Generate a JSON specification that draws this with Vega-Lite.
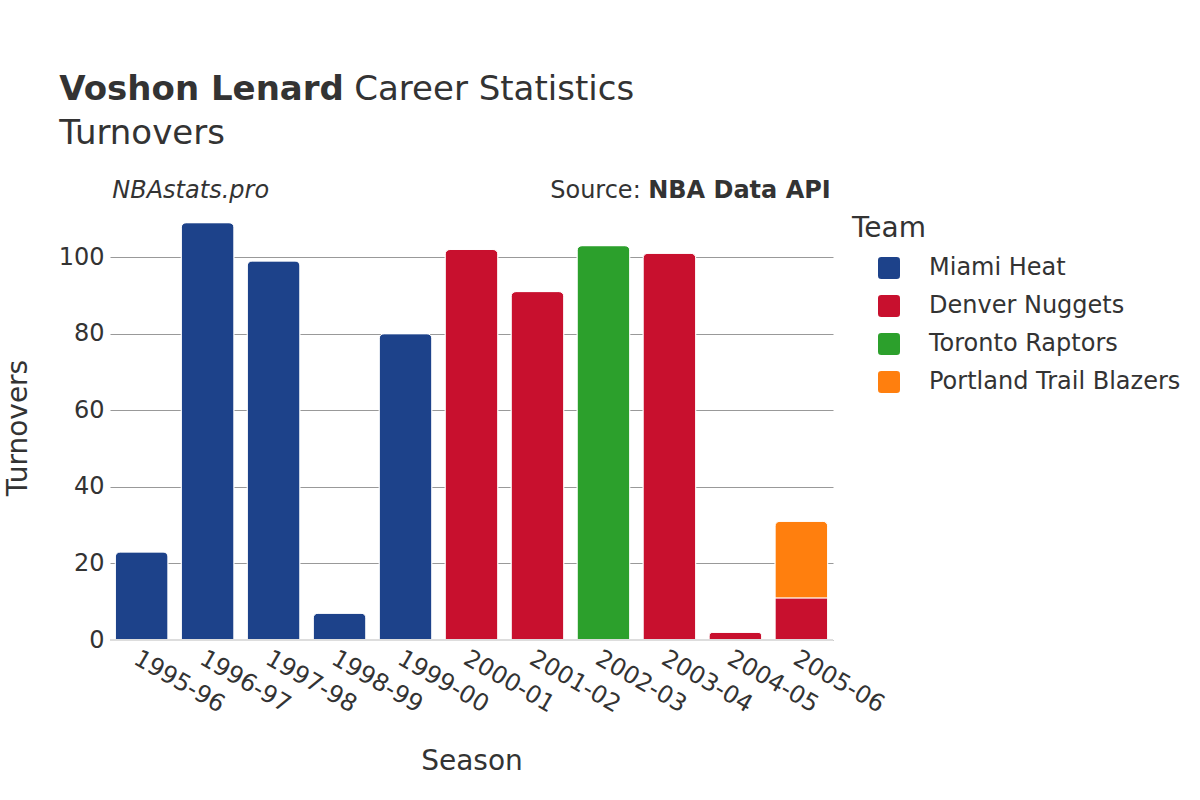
{
  "$schema": "https://vega.github.io/schema/vega-lite/v6.json",
  "autosize": "none",
  "width": 723,
  "height": 425,
  "padding": {"left": 110, "top": 215, "right": 367, "bottom": 160},
  "background": "white",
  "config": {
    "font": "DejaVu Sans",
    "view": {"stroke": null},
    "text": {"font": "DejaVu Sans", "color": "#333333"}
  },
  "data": {
    "values": [
      {"season": "1995-96", "team": "Miami Heat", "turnovers": 23},
      {"season": "1996-97", "team": "Miami Heat", "turnovers": 109},
      {"season": "1997-98", "team": "Miami Heat", "turnovers": 99},
      {"season": "1998-99", "team": "Miami Heat", "turnovers": 7},
      {"season": "1999-00", "team": "Miami Heat", "turnovers": 80},
      {"season": "2000-01", "team": "Denver Nuggets", "turnovers": 102},
      {"season": "2001-02", "team": "Denver Nuggets", "turnovers": 91},
      {"season": "2002-03", "team": "Toronto Raptors", "turnovers": 103},
      {"season": "2003-04", "team": "Denver Nuggets", "turnovers": 101},
      {"season": "2004-05", "team": "Denver Nuggets", "turnovers": 2},
      {"season": "2005-06", "team": "Denver Nuggets", "turnovers": 11},
      {"season": "2005-06", "team": "Portland Trail Blazers", "turnovers": 20}
    ]
  },
  "layer": [
    {
      "mark": {"type": "bar", "cornerRadiusEnd": 5, "stroke": "white", "strokeWidth": 1},
      "encoding": {
        "x": {
          "field": "season",
          "type": "nominal",
          "scale": {"paddingInner": 0.2, "paddingOuter": 0.08},
          "axis": {
            "title": "Season",
            "titleFontSize": 28,
            "titleFontWeight": "normal",
            "titleColor": "#333333",
            "titlePadding": 31,
            "labelAngle": 30,
            "labelAlign": "left",
            "labelBaseline": "top",
            "labelFontSize": 24,
            "labelColor": "#333333",
            "labelPadding": 6,
            "ticks": false,
            "domain": false
          }
        },
        "y": {
          "field": "turnovers",
          "type": "quantitative",
          "aggregate": "sum",
          "stack": "zero",
          "scale": {"domain": [0, 111], "nice": false},
          "axis": {
            "title": "Turnovers",
            "titleFontSize": 28,
            "titleFontWeight": "normal",
            "titleColor": "#333333",
            "titlePadding": 26,
            "values": [0, 20, 40, 60, 80, 100],
            "labelFontSize": 24,
            "labelColor": "#333333",
            "labelPadding": 6,
            "ticks": false,
            "domain": false,
            "grid": true,
            "gridColor": "#999999",
            "gridWidth": 1
          }
        },
        "color": {
          "field": "team",
          "type": "nominal",
          "scale": {
            "domain": ["Miami Heat", "Denver Nuggets", "Toronto Raptors", "Portland Trail Blazers"],
            "range": ["#1d428a", "#c8102e", "#2ca02c", "#ff7f0e"]
          },
          "legend": {
            "title": "Team",
            "orient": "right",
            "offset": 19,
            "padding": 0,
            "titleFontSize": 28,
            "titleFontWeight": "normal",
            "titleColor": "#333333",
            "titlePadding": 13,
            "labelFontSize": 24,
            "labelColor": "#333333",
            "labelOffset": 28,
            "labelLimit": 0,
            "symbolType": "M-0.7,-1H0.7Q1,-1 1,-0.7V0.7Q1,1 0.7,1H-0.7Q-1,1 -1,0.7V-0.7Q-1,-1 -0.7,-1Z",
            "symbolSize": 484,
            "symbolOffset": 25,
            "symbolStrokeWidth": 0,
            "rowPadding": 14
          }
        },
        "order": {"field": "team", "sort": "ascending"}
      }
    },
    {
      "mark": {"type": "rule", "color": "#dddddd", "strokeWidth": 2},
      "encoding": {"y": {"datum": 0}}
    },
    {
      "data": {"values": [{}]},
      "mark": {"type": "text", "align": "left", "baseline": "middle", "fontSize": 34, "fontWeight": "bold", "dx": -56, "dy": -125},
      "encoding": {
        "x": {"datum": "1995-96", "bandPosition": 0},
        "y": {"datum": 111},
        "text": {"value": "Voshon Lenard"}
      }
    },
    {
      "data": {"values": [{}]},
      "mark": {"type": "text", "align": "left", "baseline": "middle", "fontSize": 34, "dx": 239, "dy": -125},
      "encoding": {
        "x": {"datum": "1995-96", "bandPosition": 0},
        "y": {"datum": 111},
        "text": {"value": "Career Statistics"}
      }
    },
    {
      "data": {"values": [{}]},
      "mark": {"type": "text", "align": "left", "baseline": "middle", "fontSize": 34, "dx": -56, "dy": -81},
      "encoding": {
        "x": {"datum": "1995-96", "bandPosition": 0},
        "y": {"datum": 111},
        "text": {"value": "Turnovers"}
      }
    },
    {
      "data": {"values": [{}]},
      "mark": {"type": "text", "align": "left", "baseline": "middle", "fontSize": 24, "fontStyle": "italic", "dx": -3, "dy": -24},
      "encoding": {
        "x": {"datum": "1995-96", "bandPosition": 0},
        "y": {"datum": 111},
        "text": {"value": "NBAstats.pro"}
      }
    },
    {
      "data": {"values": [{}]},
      "mark": {"type": "text", "align": "right", "baseline": "middle", "fontSize": 24, "fontWeight": "bold", "dx": 3, "dy": -24},
      "encoding": {
        "x": {"datum": "2005-06", "bandPosition": 1},
        "y": {"datum": 111},
        "text": {"value": "NBA Data API"}
      }
    },
    {
      "data": {"values": [{}]},
      "mark": {"type": "text", "align": "right", "baseline": "middle", "fontSize": 24, "dx": -187, "dy": -24},
      "encoding": {
        "x": {"datum": "2005-06", "bandPosition": 1},
        "y": {"datum": 111},
        "text": {"value": "Source:"}
      }
    }
  ]
}
